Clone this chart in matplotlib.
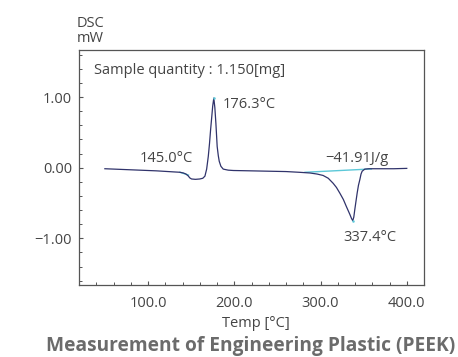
import matplotlib
matplotlib.use("Agg")
import matplotlib.pyplot as plt
from matplotlib.ticker import MultipleLocator

# --- data ---
temp = [50, 70, 90, 110, 130, 137, 141, 144, 146.5, 148.5, 150.5, 155, 160, 163.5,
        166, 168, 169.9, 171.3, 172.6, 174, 175, 176.3, 177.5, 178.7, 180.2, 181.5,
        182.6, 184.5, 187.2, 193, 199, 220, 240, 260, 275, 287.7, 296, 303,
        309, 314.6, 318.5, 322.4, 326.5, 330, 334, 336, 337.4, 338.6, 339.8,
        341.2, 342.5, 344, 345.6, 347, 348.3, 351.4, 356, 370, 385, 400]
dsc = [-0.015, -0.025, -0.035, -0.045, -0.06, -0.065, -0.075, -0.09, -0.115, -0.145,
       -0.16, -0.165, -0.16, -0.15, -0.12, -0.02, 0.16, 0.34, 0.54, 0.73, 0.87,
       0.985, 0.85, 0.63, 0.30, 0.17, 0.09, 0.02, -0.02, -0.035, -0.04, -0.045,
       -0.05, -0.055, -0.065, -0.075, -0.09, -0.11, -0.15, -0.22, -0.28, -0.36,
       -0.45, -0.55, -0.66, -0.72, -0.75, -0.70, -0.59, -0.47, -0.36, -0.25,
       -0.17, -0.09, -0.05, -0.02, -0.015, -0.015, -0.015, -0.01]

tg_base_t = [137, 147]
tg_base_v = [-0.065, -0.105]
melt_base_t = [282, 359]
melt_base_v = [-0.065, -0.018]

peak_t = [176.3, 337.4]
peak_v = [0.985, -0.75]

xticks = [100, 200, 300, 400]
xtick_labels = ["100.0", "200.0", "300.0", "400.0"]
yticks = [-1.0, 0.0, 1.0]
ytick_labels = ["\u22121.00", "0.00", "1.00"]

plt.rcParams['font.family'] = ['Open Sans', 'DejaVu Sans']
text_c = "#444444"
navy = "#30336b"
cyan = "#5cc8d8"
fs = 10.5

W, H = 458, 357
fig = plt.figure(figsize=(W / 100, H / 100), dpi=100)
ax = fig.add_axes([79 / W, 1 - 285 / H, (424 - 79) / W, (285 - 50) / H])

ax.plot(melt_base_t, melt_base_v, color=cyan, lw=1.0, zorder=2)
ax.plot(tg_base_t, tg_base_v, color=cyan, lw=1.0, zorder=2)
ax.plot(temp, dsc, color=navy, lw=0.9, zorder=3)
ax.plot(peak_t, peak_v, ls="none", marker="o", ms=1.8, color=cyan, mec="none", zorder=4)

ax.set_xlim(20, 420)
ax.set_ylim(-1.66, 1.665)
ax.set_xticks(xticks)
ax.set_xticklabels(xtick_labels)
ax.set_yticks(yticks)
ax.set_yticklabels(ytick_labels)
ax.xaxis.set_minor_locator(MultipleLocator(20))
ax.yaxis.set_minor_locator(MultipleLocator(0.2))
ax.tick_params(which="both", direction="in", color="#555555", labelsize=fs,
               labelcolor=text_c, top=False, right=False)
ax.tick_params(which="major", length=3, width=0.8)
ax.tick_params(axis="y", which="major", pad=5)
ax.tick_params(axis="x", which="major", pad=8)
ax.tick_params(which="minor", length=2.5, width=0.7)
for s in ax.spines.values():
    s.set_color("#555555")
    s.set_linewidth(0.9)

fig.text(255.7 / W, 1 - 326.7 / H, "Temp [\u00b0C]", fontsize=fs, color=text_c,
         ha="center", va="baseline")

ax.text(37.4, 1.324, "Sample quantity : 1.150[mg]", fontsize=fs, color=text_c, va="baseline")
ax.text(186.5, 0.838, "176.3\u00b0C", fontsize=fs, color=text_c, va="baseline")
ax.text(152.1, 0.082, "145.0\u00b0C", fontsize=fs, color=text_c, va="baseline", ha="right")
ax.text(378.4, 0.082, "\u221241.91J/g", fontsize=fs, color=text_c, va="baseline", ha="right")
ax.text(357, -1.037, "337.4\u00b0C", fontsize=fs, color=text_c, va="baseline", ha="center")

fig.text(77 / W, 1 - 27.3 / H, "DSC", fontsize=fs, color=text_c, va="baseline", ha="left")
fig.text(77 / W, 1 - 41.7 / H, "mW", fontsize=fs, color=text_c, va="baseline", ha="left")

fig.text(251 / W, 1 - 351.5 / H, "Measurement of Engineering Plastic (PEEK)",
         fontsize=13.8, fontweight="bold", color="#6b6b6b", ha="center", va="baseline")

fig.savefig("out.png", dpi=100)
